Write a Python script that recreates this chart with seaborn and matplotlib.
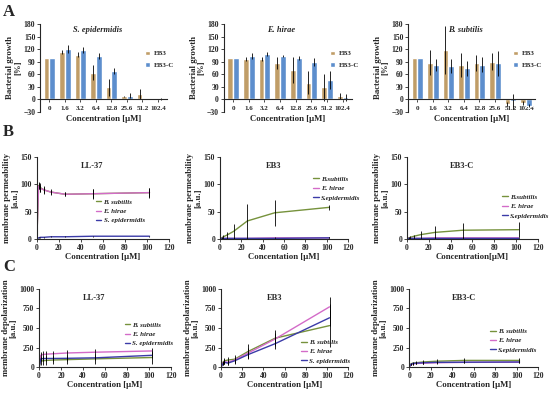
import numpy as np
import pandas as pd
import matplotlib
matplotlib.use('Agg')
import matplotlib.pyplot as plt
import seaborn as sns

# --- data -------------------------------------------------------------
conc_labels = ['0', '1.6', '3.2', '6.4', '12.8', '25.6', '51.2', '102.4']
conc = [0, 1.6, 3.2, 6.4, 12.8, 25.6, 51.2, 102.4]

# A: bacterial growth (%)
sepi_eb3 = [100, 114, 107, 64, 29, 7, 13, 0]
sepi_eb3_err = [0, 5, 6, 17, 20, 2, 12, 0]
sepi_eb3c = [100, 120, 118, 104, 68, 9, 0, 1]
sepi_eb3c_err = [0, 10, 8, 7, 8, 6, 0, 2]

hirae_eb3 = [100, 97, 97, 87, 70, 40, 29, 8]
hirae_eb3_err = [0, 5, 5, 14, 32, 27, 32, 8]
hirae_eb3c = [100, 104, 108, 103, 99, 90, 46, 5]
hirae_eb3c_err = [0, 7, 5, 2, 4, 10, 22, 8]

subt_eb3 = [100, 88, 118, 82, 87, 90, -10, -8]
subt_eb3_err = [0, 30, 57, 28, 18, 20, 5, 5]
subt_eb3c = [100, 82, 80, 74, 83, 86, -4, -15]
subt_eb3c_err = [0, 14, 16, 18, 18, 30, 18, 4]

# B: membrane permeability (a.u.)
perm_ll37_bsub = [0, 98, 94, 90, 86, 82, 83, 85]
perm_ll37_bsub_err = [0, 6, 8, 7, 5, 4, 8, 8]
perm_ll37_ehir = [0, 97, 93, 90, 86, 82, 83, 85]
perm_ll37_ehir_err = [0, 5, 6, 6, 4, 4, 9, 9]
perm_ll37_sepi = [0, 2, 3, 3, 4, 4, 5, 5]
perm_ll37_sepi_err = [0, 1, 1, 1, 1, 1, 1, 1]

perm_eb3_bsub = [0, 2, 4, 7, 14, 33, 48, 58]
perm_eb3_bsub_err = [0, 1, 3, 6, 14, 32, 24, 4]
perm_eb3_ehir = [0, 1, 1, 1, 1, 1, 2, 2]
perm_eb3_ehir_err = [0, 1, 1, 1, 1, 1, 1, 1]
perm_eb3_sepi = [0, 1, 1, 1, 1, 1, 1, 2]
perm_eb3_sepi_err = [0, 1, 1, 1, 1, 1, 1, 1]

perm_eb3c_bsub = [0, 2, 3, 5, 8, 12, 16, 17]
perm_eb3c_bsub_err = [0, 1, 2, 3, 7, 11, 14, 14]
perm_eb3c_ehir = [0, 1, 1, 1, 1, 2, 2, 2]
perm_eb3c_ehir_err = [0, 1, 1, 1, 1, 1, 1, 1]
perm_eb3c_sepi = [0, 1, 1, 1, 1, 1, 1, 1]
perm_eb3c_sepi_err = [0, 1, 1, 1, 1, 1, 1, 1]

# C: membrane depolarization (a.u.)
depol_ll37_bsub = [0, 75, 80, 85, 90, 95, 105, 122]
depol_ll37_bsub_err = [0, 55, 55, 55, 55, 60, 60, 80]
depol_ll37_ehir = [0, 150, 160, 165, 170, 180, 190, 206]
depol_ll37_ehir_err = [0, 40, 40, 40, 40, 40, 40, 40]
depol_ll37_sepi = [0, 105, 108, 110, 110, 112, 118, 150]
depol_ll37_sepi_err = [0, 30, 30, 30, 30, 30, 30, 40]

depol_eb3_bsub = [0, 60, 80, 90, 100, 200, 370, 530]
depol_eb3_bsub_err = [0, 20, 40, 40, 60, 90, 100, 270]
depol_eb3_ehir = [0, 50, 70, 60, 90, 180, 360, 770]
depol_eb3_ehir_err = [0, 20, 30, 30, 40, 60, 80, 130]
depol_eb3_sepi = [0, 40, 60, 50, 80, 160, 300, 630]
depol_eb3_sepi_err = [0, 20, 20, 20, 30, 60, 70, 100]

depol_eb3c_bsub = [0, 40, 50, 55, 65, 75, 85, 85]
depol_eb3c_bsub_err = [0, 15, 20, 20, 20, 25, 25, 25]
depol_eb3c_ehir = [0, 30, 40, 45, 50, 55, 60, 62]
depol_eb3c_ehir_err = [0, 10, 10, 10, 10, 10, 10, 10]
depol_eb3c_sepi = [0, 35, 45, 50, 55, 60, 62, 65]
depol_eb3c_sepi_err = [0, 10, 10, 10, 10, 10, 10, 10]

bar_colors = ['#CFA058', '#4A8BE0']
line_colors = ['#76923C', '#D36BC8', '#3B3BA8']

# --- style ------------------------------------------------------------
sns.set_style('ticks')
plt.rcParams['font.family'] = ['Liberation Serif', 'DejaVu Serif']
plt.rcParams['font.weight'] = 'bold'
plt.rcParams['axes.labelweight'] = 'bold'
plt.rcParams['axes.linewidth'] = 0.8

fig = plt.figure(figsize=(5.5, 3.93), dpi=100)

tick_fs = 5.5
lab_fs = 6.3


def style_axes(ax):
    sns.despine(ax=ax)
    ax.tick_params(labelsize=tick_fs, width=0.6, length=2, pad=1.5)
    for lbl in ax.get_xticklabels() + ax.get_yticklabels():
        lbl.set_fontweight('bold')


def bar_panel(rect, title, eb3, eb3_err, eb3c, eb3c_err):
    ax = fig.add_axes(rect)
    df = pd.DataFrame({
        'conc': conc_labels * 2,
        'growth': eb3 + eb3c,
        'peptide': ['EB3'] * 8 + ['EB3-C'] * 8,
    })
    sns.barplot(data=df, x='conc', y='growth', hue='peptide', palette=bar_colors,
                order=conc_labels, errorbar=None, ax=ax, width=0.75)
    # error bars on top of each bar
    for cont, err in zip(ax.containers, [eb3_err, eb3c_err]):
        xs = [p.get_x() + p.get_width() / 2 for p in cont]
        tops = [p.get_y() + p.get_height() for p in cont]
        ax.errorbar(xs, tops, yerr=err, fmt='none', ecolor='black', elinewidth=0.6, capsize=0)
    ax.set_ylim(-30, 180)
    ax.set_yticks(range(-30, 181, 30))
    ax.set_xlim(-0.6, 7.6)
    style_axes(ax)
    ax.spines['bottom'].set_position(('data', 0))
    ax.tick_params(axis='x', pad=3, length=2, labelsize=5)
    ax.set_xlabel('Concentration [μM]', fontsize=lab_fs, labelpad=1)
    ax.set_ylabel('Bacterial growth\n[%]', fontsize=lab_fs, labelpad=1, linespacing=1.0)
    ax.xaxis.set_label_coords(0.5, -0.03)
    ax.text(0.45, 0.98, title, transform=ax.transAxes, ha='center', va='top',
            fontsize=6, style='italic', fontweight='bold')
    ax.legend(frameon=False, fontsize=5, loc='center left', bbox_to_anchor=(0.78, 0.6),
              handlelength=0.7, handleheight=0.7, handletextpad=0.5, labelspacing=0.8)
    return ax


def line_panel(rect, title, ylim, yticks, ylabel, xlabel, series, labels, legend_pos):
    ax = fig.add_axes(rect)
    rows = []
    for (vals, err), lab in zip(series, labels):
        for x, v in zip(conc, vals):
            rows.append({'conc': x, 'value': v, 'species': lab})
    df = pd.DataFrame(rows)
    sns.lineplot(data=df, x='conc', y='value', hue='species', palette=line_colors,
                 hue_order=labels, ax=ax, linewidth=1.0, errorbar=None)
    for vals, err in series:
        ax.errorbar(conc, vals, yerr=err, fmt='none', ecolor='black',
                    elinewidth=0.6, capsize=0)
    ax.set_xlim(0, 120)
    ax.set_xticks(range(0, 121, 20))
    ax.set_ylim(*ylim)
    ax.set_yticks(yticks)
    style_axes(ax)
    ax.set_xlabel(xlabel, fontsize=lab_fs, labelpad=1)
    ax.set_ylabel(ylabel, fontsize=lab_fs, labelpad=1, linespacing=1.0)
    ax.text(0.42, 0.94, title, transform=ax.transAxes, ha='center', va='top',
            fontsize=6, fontweight='bold')
    leg = ax.legend(frameon=False, fontsize=5, loc='center left', bbox_to_anchor=legend_pos,
                    handlelength=0.8, handletextpad=0.3, labelspacing=0.5)
    for t in leg.get_texts():
        t.set_fontstyle('italic')
    return ax


# --- row A ------------------------------------------------------------
bar_panel([0.073, 0.715, 0.231, 0.224], 'S. epidermidis', sepi_eb3, sepi_eb3_err, sepi_eb3c, sepi_eb3c_err)
bar_panel([0.407, 0.715, 0.233, 0.224], 'E. hirae', hirae_eb3, hirae_eb3_err, hirae_eb3c, hirae_eb3c_err)
bar_panel([0.742, 0.715, 0.231, 0.224], 'B. subtilis', subt_eb3, subt_eb3_err, subt_eb3c, subt_eb3c_err)

# --- row B ------------------------------------------------------------
perm_kw = dict(ylim=(0, 150), yticks=[0, 50, 100, 150], ylabel='membrane permeability\n[a.u.]')
line_panel([0.067, 0.392, 0.24, 0.208], 'LL-37', xlabel='Concentration [μM]',
           series=[(perm_ll37_bsub, perm_ll37_bsub_err), (perm_ll37_ehir, perm_ll37_ehir_err),
                   (perm_ll37_sepi, perm_ll37_sepi_err)],
           labels=['B. subtilis', 'E. hirae', 'S. epidermidis'], legend_pos=(0.4, 0.34), **perm_kw)
line_panel([0.4, 0.392, 0.233, 0.208], 'EB3', xlabel='Concentation [μM]',
           series=[(perm_eb3_bsub, perm_eb3_bsub_err), (perm_eb3_ehir, perm_eb3_ehir_err),
                   (perm_eb3_sepi, perm_eb3_sepi_err)],
           labels=['B.subtilis', 'E. hirae', 'S.epidermidis'], legend_pos=(0.68, 0.62), **perm_kw)
line_panel([0.74, 0.392, 0.238, 0.208], 'EB3-C', xlabel='Concentration[μM]',
           series=[(perm_eb3c_bsub, perm_eb3c_bsub_err), (perm_eb3c_ehir, perm_eb3c_ehir_err),
                   (perm_eb3c_sepi, perm_eb3c_sepi_err)],
           labels=['B.subtilis', 'E. hirae', 'S.epidermidis'], legend_pos=(0.68, 0.4), **perm_kw)

# --- row C ------------------------------------------------------------
depol_kw = dict(ylim=(0, 1000), yticks=[0, 250, 500, 750, 1000], ylabel='membrane depolarization\n[a.u.]',
                xlabel='Concentration [μM]')
line_panel([0.071, 0.066, 0.24, 0.199], 'LL-37',
           series=[(depol_ll37_bsub, depol_ll37_bsub_err), (depol_ll37_ehir, depol_ll37_ehir_err),
                   (depol_ll37_sepi, depol_ll37_sepi_err)],
           labels=['B. subtilis', 'E. hirae', 'S. epidermidis'], legend_pos=(0.6, 0.42), **depol_kw)
line_panel([0.402, 0.066, 0.231, 0.199], 'EB3',
           series=[(depol_eb3_bsub, depol_eb3_bsub_err), (depol_eb3_ehir, depol_eb3_ehir_err),
                   (depol_eb3_sepi, depol_eb3_sepi_err)],
           labels=['B. subtilis', 'E. hirae', 'S. epidermidis'], legend_pos=(0.58, 0.2), **depol_kw)
line_panel([0.744, 0.066, 0.235, 0.199], 'EB3-C',
           series=[(depol_eb3c_bsub, depol_eb3c_bsub_err), (depol_eb3c_ehir, depol_eb3c_ehir_err),
                   (depol_eb3c_sepi, depol_eb3c_sepi_err)],
           labels=['B. subtilis', 'E. hirae', 'S.epidermidis'], legend_pos=(0.58, 0.34), **depol_kw)

# panel letters
for letter, y in [('A', 0.99), ('B', 0.685), ('C', 0.34)]:
    fig.text(0.005, y, letter, fontsize=12, fontweight='bold', va='top', ha='left')

fig.savefig('out.png', dpi=100)
